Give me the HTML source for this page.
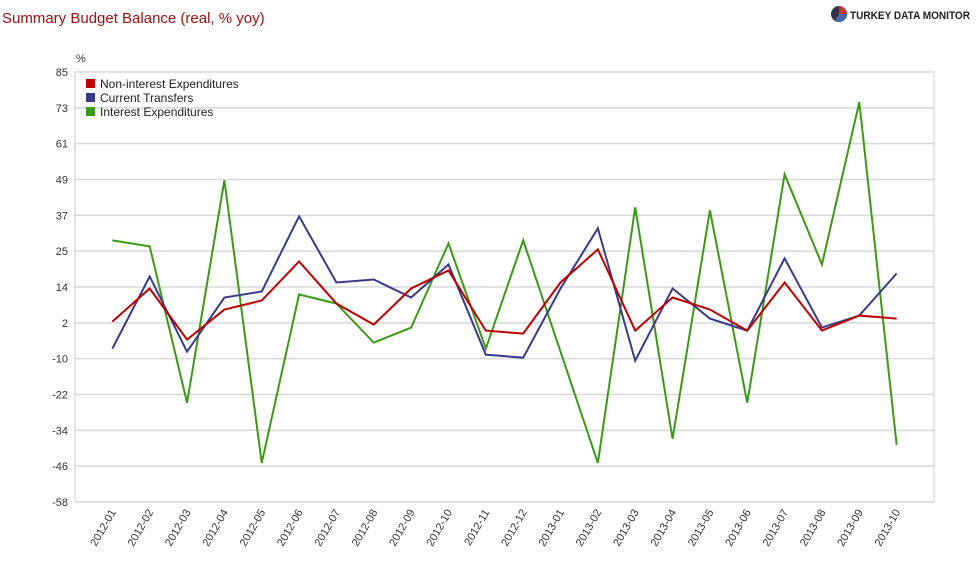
<!DOCTYPE html>
<html><head><meta charset="utf-8"><style>
body{margin:0;background:#fff;width:979px;height:570px;overflow:hidden;font-family:"Liberation Sans",Arial,sans-serif}
</style></head><body>
<svg width="979" height="570" xmlns="http://www.w3.org/2000/svg" id="chart" font-family="Liberation Sans, Arial, sans-serif">
<text x="2" y="23" font-size="15" fill="#a01010">Summary Budget Balance (real, % yoy)</text>
<g>
<circle cx="839" cy="14" r="8" fill="#334" /><path d="M839 14 L839 6 A8 8 0 0 1 847 14 Z" fill="#c33"/><path d="M839 14 L847 14 A8 8 0 0 1 835 21 Z" fill="#46a"/>
<text x="850" y="19" font-size="11" font-weight="bold" fill="#222" textLength="120" lengthAdjust="spacingAndGlyphs">TURKEY DATA MONITOR</text></g>
<text x="76" y="62" font-size="11" fill="#333">%</text>
<g id="grid"></g><g id="series"></g>
<g font-size="12" fill="#222">
<rect x="86" y="79" width="9" height="9" fill="#c00000"/><text x="100" y="88">Non-interest Expenditures</text>
<rect x="86" y="93" width="9" height="9" fill="#3a3a8c"/><text x="100" y="102">Current Transfers</text>
<rect x="86" y="107" width="9" height="9" fill="#3a9a14"/><text x="100" y="116">Interest Expenditures</text>
</g>
</svg>
<script>
const categories=["2012-01","2012-02","2012-03","2012-04","2012-05","2012-06","2012-07","2012-08","2012-09","2012-10","2012-11","2012-12","2013-01","2013-02","2013-03","2013-04","2013-05","2013-06","2013-07","2013-08","2013-09","2013-10"];
const nonInterest=[2,13,-4,6,9,22,8,1,13,19,-1,-2,15,26,-1,10,6,-1,15,-1,4,3];
const transfers=[-7,17,-8,10,12,37,15,16,10,21,-9,-10,13,33,-11,13,3,-1,23,0,4,18];
const interest=[29,27,-25,49,-45,11,8,-5,0,28,-7,29,-8,-45,40,-37,39,-25,51,21,75,-39];
const tickLabels=["85","73","61","49","37","25","14","2","-10","-22","-34","-46","-58"];
const yMin=-58,yMax=85,plotTop=72,plotBot=502,plotLeft=75,plotRight=934;
const NS="http://www.w3.org/2000/svg";
const yScale=v=>plotBot-(v-yMin)/(yMax-yMin)*(plotBot-plotTop);
const step=(plotRight-plotLeft)/(categories.length+1);
const xScale=i=>plotLeft+(i+1)*step;
function mk(t,a,p){const e=document.createElementNS(NS,t);for(const k in a)e.setAttribute(k,a[k]);p.appendChild(e);return e;}
const g=document.getElementById('grid');
tickLabels.forEach((l,i)=>{const yy=plotTop+i*(plotBot-plotTop)/(tickLabels.length-1);
const ln=mk('line',{x1:plotLeft,x2:plotRight,y1:yy,y2:yy,stroke:'#d8d8d8','stroke-width':1.5},g);


const t=mk('text',{x:68,y:yy+4,'text-anchor':'end','font-size':11,fill:'#333'},g);t.textContent=l;

});
const ax=mk('line',{x1:plotLeft,x2:plotLeft,y1:plotTop,y2:plotBot,stroke:'#ccc'},g);


const ax2=mk('line',{x1:plotRight,x2:plotRight,y1:plotTop,y2:plotBot,stroke:'#ccc'},g);


categories.forEach((c,i)=>{const t=mk('text',{transform:`translate(${xScale(i)+4},${plotBot+10}) rotate(-60)`,'text-anchor':'end','font-size':11,fill:'#333'},g);t.textContent=c;

});
const s=document.getElementById('series');
[[interest,'#3a9a14','line-interest'],[transfers,'#3a3a8c','line-transfers'],[nonInterest,'#c00000','line-non-interest']].forEach(([d,c,n])=>{
const p=mk('polyline',{points:d.map((v,i)=>xScale(i)+','+yScale(v)).join(' '),fill:'none',stroke:c,'stroke-width':2},s);

});
</script>
</body></html>
